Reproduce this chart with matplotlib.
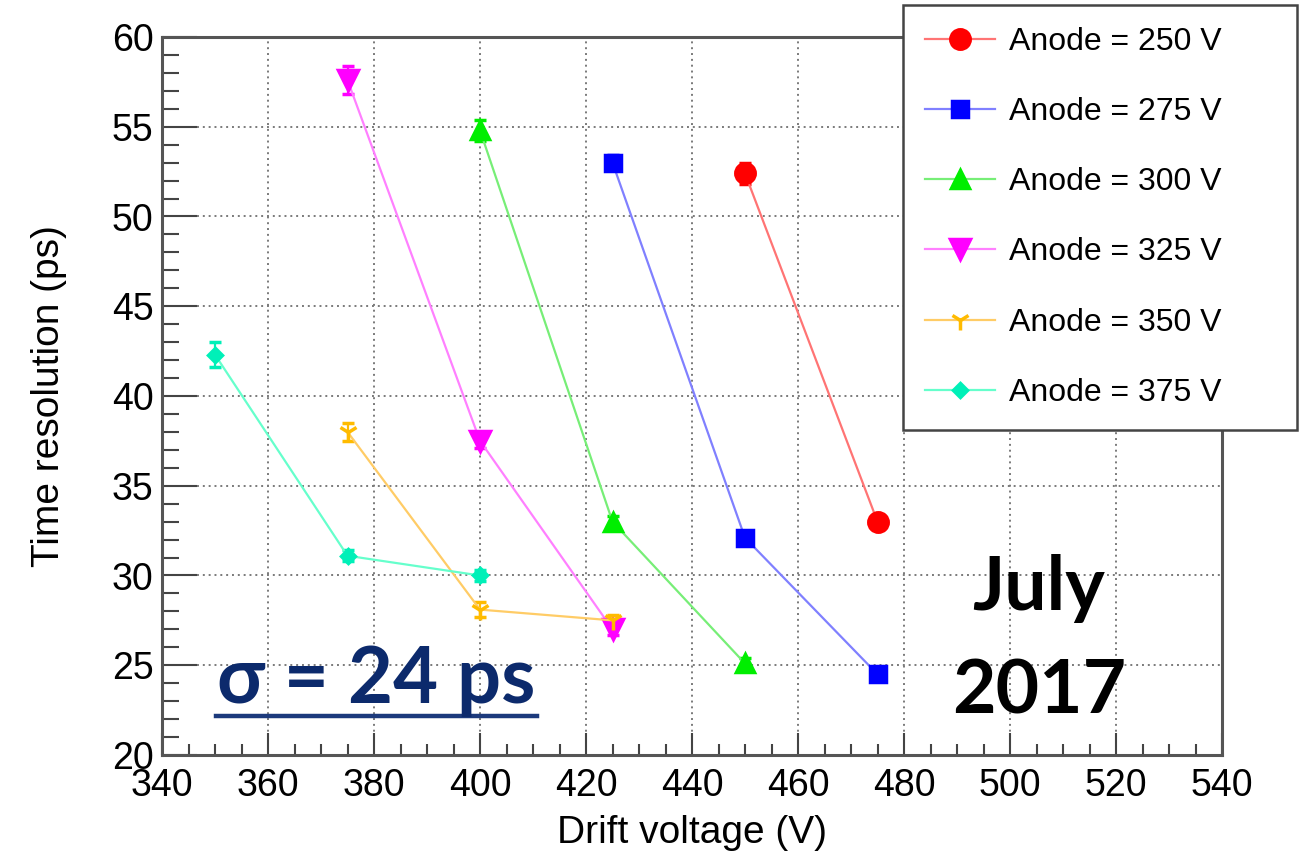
import matplotlib
matplotlib.use('Agg')
import matplotlib.pyplot as plt
from matplotlib.lines import Line2D
from matplotlib.ticker import MultipleLocator

plt.rcParams['font.family'] = ['Liberation Sans', 'DejaVu Sans']

# data: drift voltage (V) -> time resolution (ps)
anodes = ['250', '275', '300', '325', '350', '375']
drift_250 = [450, 475]
res_250 = [52.4, 33.0]
err_250 = [0.6, 0.3]
drift_275 = [425, 450, 475]
res_275 = [53.0, 32.1, 24.5]
err_275 = [0.4, 0.3, 0.3]
drift_300 = [400, 425, 450]
res_300 = [54.8, 33.0, 25.1]
err_300 = [0.6, 0.3, 0.3]
drift_325 = [375, 400, 425]
res_325 = [57.6, 37.5, 27.0]
err_325 = [0.8, 0.4, 0.3]
drift_350 = [375, 400, 425]
res_350 = [38.0, 28.1, 27.5]
err_350 = [0.5, 0.4, 0.3]
drift_375 = [350, 375, 400]
res_375 = [42.3, 31.1, 30.0]
err_375 = [0.7, 0.3, 0.3]

series = [
    (drift_250, res_250, err_250, 'o', 14, '#ff0000', '#ff7474'),
    (drift_275, res_275, err_275, 's', 12, '#0000ff', '#8080ff'),
    (drift_300, res_300, err_300, '^', 13, '#00ee00', '#77ee77'),
    (drift_325, res_325, err_325, 'v', 15, '#ff00ff', '#ff80ff'),
    (drift_350, res_350, err_350, '1', 14, '#ffbb00', '#ffcc66'),
    (drift_375, res_375, err_375, 'D', 7, '#00f0b8', '#66ffcc'),
]

fig = plt.figure(figsize=(13.03, 8.55), dpi=100)
ax = fig.add_axes([162 / 1303, 100 / 855, 1060 / 1303, 718 / 855])

handles = []
for (x, y, e, mk, ms, mc, lc), an in zip(series, anodes):
    ax.errorbar(x, y, yerr=e, color=lc, lw=1.6, ecolor=mc, elinewidth=1.6,
                capsize=4, marker=mk, ms=ms, mfc=mc, mec=mc, mew=2.5, zorder=3)
    handles.append(Line2D([], [], color=lc, lw=1.6, marker=mk, ms=ms,
                          mfc=mc, mec=mc, mew=2.5, label=f'Anode = {an} V'))

ax.set_xlim(340, 540)
ax.set_ylim(20, 60)
ax.xaxis.set_major_locator(MultipleLocator(20))
ax.xaxis.set_minor_locator(MultipleLocator(5))
ax.yaxis.set_major_locator(MultipleLocator(5))
ax.yaxis.set_minor_locator(MultipleLocator(1))
ax.grid(True, which='major', color='#7a7a7a', lw=1.4, ls=(0, (1, 2)))
ax.set_axisbelow(True)

ax.tick_params(axis='x', which='major', direction='in', length=16, width=1.5,
               color='#444444', labelsize=27, pad=9, top=False)
ax.tick_params(axis='x', which='minor', direction='in', length=8, width=1.5,
               color='#444444', top=False)
ax.tick_params(axis='y', which='major', direction='in', length=25, width=1.5,
               color='#444444', labelsize=27, pad=6, right=False)
ax.tick_params(axis='y', which='minor', direction='in', length=12, width=1.5,
               color='#444444', right=False)
for sp in ax.spines.values():
    sp.set_color('#555555')
    sp.set_linewidth(2.2)

ax.set_xlabel('Drift voltage (V)', fontsize=28, labelpad=8)
ax.set_ylabel('Time resolution (ps)', fontsize=28, labelpad=32)

leg = fig.legend(handles=handles, loc='upper left', mode='expand',
                 bbox_to_anchor=(903 / 1303, 0, 394 / 1303, 1 - 5 / 855),
                 fontsize=23, labelspacing=1.26, handlelength=2.2,
                 handletextpad=0.45, borderpad=0.68, borderaxespad=0,
                 fancybox=False, framealpha=1, edgecolor='#444444')
leg.get_frame().set_linewidth(1.8)

bold = ['Lato', 'Noto Sans', 'DejaVu Sans']
fig.text(376 / 1303, 1 - 703 / 855, 'σ = 24 ps', family=bold, weight='bold',
         fontsize=56, color='#0c2a6c', ha='center', va='baseline')
fig.add_artist(Line2D([216 / 1303, 537 / 1303], [1 - 716 / 855, 1 - 716 / 855],
                      color='#1c3a7c', lw=3.2))
fig.text(1039 / 1303, 1 - 610 / 855, 'July', family=bold, weight='bold',
         fontsize=54, color='black', ha='center', va='baseline')
fig.text(1039 / 1303, 1 - 713 / 855, '2017', family=bold, weight='bold',
         fontsize=54, color='black', ha='center', va='baseline')

fig.savefig('out.png', dpi=100)
